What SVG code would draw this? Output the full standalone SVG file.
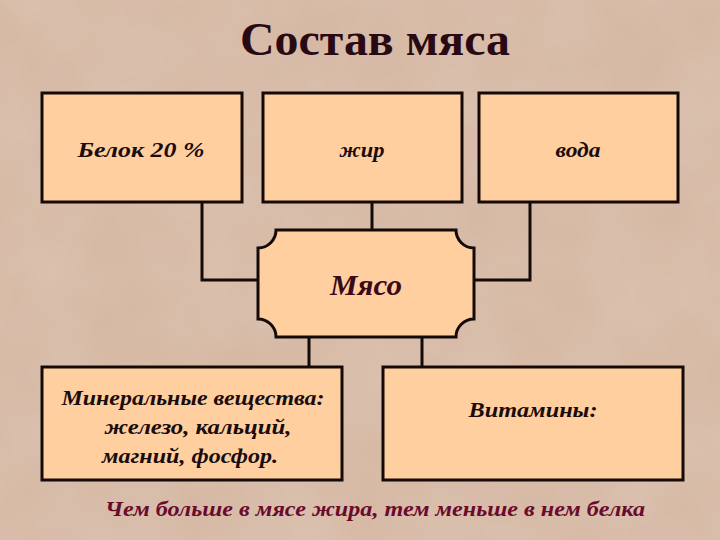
<svg xmlns="http://www.w3.org/2000/svg" width="720" height="540" viewBox="0 0 720 540">
  <defs>
    <filter id="mottle" x="0" y="0" width="100%" height="100%">
      <feTurbulence type="fractalNoise" baseFrequency="0.012" numOctaves="3" seed="7" result="n"/>
      <feColorMatrix in="n" type="matrix" values="0 0 0 0 0.78  0 0 0 0 0.66  0 0 0 0 0.58  0 0 0 0.35 0"/>
    </filter>
    <style>
      .box { fill: #ffcf9f; stroke: #140a08; stroke-width: 3; }
      .conn { fill: none; stroke: #140a08; stroke-width: 3; }
      .lbl { font-family: "Liberation Serif", "Times New Roman", serif; font-weight: bold; font-style: italic; font-size: 22px; fill: #1a0c0c; text-anchor: middle; }
    </style>
  </defs>
  <rect x="0" y="0" width="720" height="540" fill="#d5b7a2"/>
  <rect x="0" y="0" width="720" height="540" filter="url(#mottle)"/>

  <text x="375" y="55" font-family="'Liberation Serif', 'Times New Roman', serif" font-weight="bold" font-size="46" fill="#2a0a12" text-anchor="middle" textLength="270" lengthAdjust="spacingAndGlyphs">Состав мяса</text>

  <g id="connectors">
    <polyline class="conn" points="202,202 202,280 258,280"/>
    <polyline class="conn" points="372,202 372,230"/>
    <polyline class="conn" points="530,202 530,280 474,280"/>
    <polyline class="conn" points="309,337 309,367"/>
    <polyline class="conn" points="422,337 422,367"/>
  </g>

  <g id="node-belok">
    <rect class="box" x="42" y="93" width="200" height="109"/>
    <text class="lbl" x="141" y="157" textLength="127" lengthAdjust="spacingAndGlyphs">Белок 20 %</text>
  </g>
  <g id="node-zhir">
    <rect class="box" x="263" y="93" width="199" height="109"/>
    <text class="lbl" x="362" y="157" textLength="45" lengthAdjust="spacingAndGlyphs">жир</text>
  </g>
  <g id="node-voda">
    <rect class="box" x="479" y="93" width="199" height="109"/>
    <text class="lbl" x="578" y="157" textLength="45" lengthAdjust="spacingAndGlyphs">вода</text>
  </g>
  <g id="node-myaso">
    <path class="box" d="M276,230 L456,230 A18,18 0 0 0 474,248 L474,319 A18,18 0 0 0 456,337 L276,337 A18,18 0 0 0 258,319 L258,248 A18,18 0 0 0 276,230 Z"/>
    <text x="366" y="295" font-family="'Liberation Serif', 'Times New Roman', serif" font-weight="bold" font-style="italic" font-size="29" fill="#3a0a18" text-anchor="middle" textLength="72" lengthAdjust="spacingAndGlyphs">Мясо</text>
  </g>
  <g id="node-minerals">
    <rect class="box" x="42" y="367" width="300" height="113"/>
    <text class="lbl" x="193" y="405" textLength="263" lengthAdjust="spacingAndGlyphs">Минеральные вещества:</text>
    <text class="lbl" x="198" y="434" textLength="187" lengthAdjust="spacingAndGlyphs">железо, кальций,</text>
    <text class="lbl" x="190" y="463" textLength="176" lengthAdjust="spacingAndGlyphs">магний, фосфор.</text>
  </g>
  <g id="node-vitamins">
    <rect class="box" x="383" y="367" width="300" height="113"/>
    <text class="lbl" x="533" y="417" textLength="129" lengthAdjust="spacingAndGlyphs">Витамины:</text>
  </g>

  <text x="375" y="516" font-family="'Liberation Serif', 'Times New Roman', serif" font-weight="bold" font-style="italic" font-size="21" fill="#6a0a2c" text-anchor="middle" textLength="540" lengthAdjust="spacingAndGlyphs">Чем больше в мясе жира, тем меньше в нем белка</text>
</svg>
